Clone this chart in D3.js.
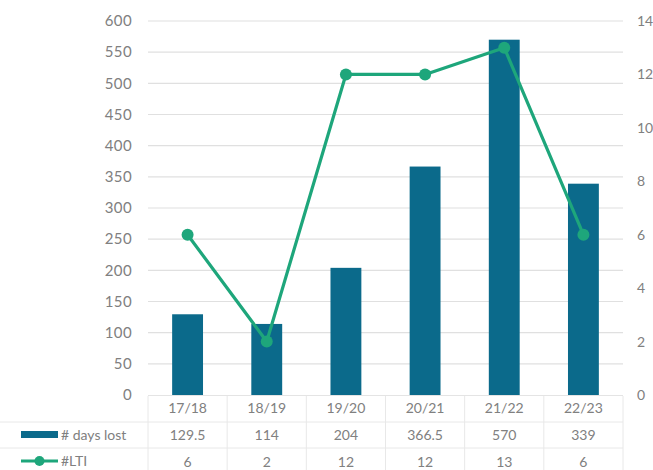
<!DOCTYPE html>
<html><head><meta charset="utf-8">
<script src="https://cdn.jsdelivr.net/npm/d3@7"></script>
<style>body{margin:0;background:#fff}svg{display:block}text{font-family:Lato,"Open Sans",sans-serif;fill:#808080}</style>
</head><body>
<script>
const categories = ["17/18","18/19","19/20","20/21","21/22","22/23"];
const daysLost = [129.5,114,204,366.5,570,339];
const lti = [6,2,12,12,13,6];
const daysLabels = ["129.5","114","204","366.5","570","339"];
const leftTicks = [0,50,100,150,200,250,300,350,400,450,500,550,600];
const rightTicks = [0,2,4,6,8,10,12,14];
const seriesNames = ["# days lost","#LTI"];

const W=653,H=470;
const barColor="#0b6a8b", lineColor="#1ea67b", gridColor="#e0e0e0";
const svg=d3.select("body").append("svg").attr("width",W).attr("height",H);
const x0=148,x1=623,yTop=21,yBot=395;
const x=d3.scaleBand().domain(categories).range([x0,x1]).paddingInner(0.61).paddingOuter(0.305);
const xb=d3.scaleBand().domain(categories).range([x0,x1]);
const yL=d3.scaleLinear().domain([0,600]).range([yBot,yTop]);
const yR=d3.scaleLinear().domain([0,14]).range([yBot,yTop]);

// gridlines
svg.append("g").selectAll("line").data(leftTicks.filter(d=>d>0)).join("line")
  .attr("x1",x0).attr("x2",x1).attr("y1",d=>yL(d)).attr("y2",d=>yL(d))
  .attr("stroke",gridColor).attr("stroke-width",1.2);

// left axis
const gl=svg.append("g").attr("transform",`translate(${x0-16},0)`)
  .call(d3.axisLeft(yL).tickValues(leftTicks).tickSize(0).tickPadding(0));
gl.select(".domain").remove();
gl.selectAll("text").style("font-size","15px").style("fill","#808080").style("font-family","Lato,sans-serif").style("letter-spacing","0.4px");

// right axis
const gr=svg.append("g").attr("transform",`translate(637,0)`)
  .call(d3.axisRight(yR).tickValues(rightTicks).tickSize(0).tickPadding(0));
gr.select(".domain").remove();
gr.selectAll("text").style("font-size","14px").style("fill","#808080").style("font-family","Lato,sans-serif");

// bars
svg.append("g").selectAll("rect").data(categories).join("rect")
  .attr("x",d=>x(d)).attr("width",x.bandwidth())
  .attr("y",(d,i)=>yL(daysLost[i])).attr("height",(d,i)=>yBot-yL(daysLost[i]))
  .attr("fill",barColor);

// line
const cx=d=>xb(d)+xb.bandwidth()/2;
svg.append("path").datum(categories)
  .attr("d",d3.line().x(cx).y((d,i)=>yR(lti[i])))
  .attr("fill","none").attr("stroke",lineColor).attr("stroke-width",3.2).attr("stroke-linejoin","round");
svg.append("g").selectAll("circle").data(categories).join("circle")
  .attr("cx",cx).attr("cy",(d,i)=>yR(lti[i])).attr("r",6).attr("fill",lineColor);

// data table
const tg=svg.append("g");
const rowLines=[422,448];
tg.selectAll("line.h").data(rowLines).join("line").attr("class","h")
  .attr("x1",0).attr("x2",x1).attr("y1",d=>d).attr("y2",d=>d)
  .attr("stroke","#e8e8e8").attr("stroke-width",1);
const bounds=categories.map(c=>xb(c)).concat([x1]);
tg.selectAll("line.v").data(bounds).join("line").attr("class","v")
  .attr("x1",d=>d).attr("x2",d=>d).attr("y1",yBot+1).attr("y2",H)
  .attr("stroke","#e8e8e8").attr("stroke-width",1);
tg.append("line").attr("x1",x0).attr("x2",x1).attr("y1",yBot+0.5).attr("y2",yBot+0.5).attr("stroke","#e4e4e4");

tg.selectAll("text.cat").data(categories).join("text").attr("class","cat")
  .attr("x",cx).attr("y",413).attr("text-anchor","middle").style("font-size","14px").text(d=>d);
tg.selectAll("text.v1").data(categories).join("text").attr("class","v1")
  .attr("x",cx).attr("y",440).attr("text-anchor","middle").style("font-size","14px").text((d,i)=>daysLabels[i]);
tg.selectAll("text.v2").data(categories).join("text").attr("class","v2")
  .attr("x",cx).attr("y",467).attr("text-anchor","middle").style("font-size","14px").text((d,i)=>lti[i]);

// legend keys
tg.append("rect").attr("x",21).attr("y",431).attr("width",37).attr("height",7).attr("fill",barColor);
tg.append("text").attr("x",61).attr("y",440).style("font-size","14px").text(seriesNames[0]);
tg.append("line").attr("x1",21).attr("x2",58).attr("y1",461).attr("y2",461).attr("stroke",lineColor).attr("stroke-width",3);
tg.append("circle").attr("cx",39.5).attr("cy",461).attr("r",5).attr("fill",lineColor);
tg.append("text").attr("x",61).attr("y",466).style("font-size","14px").text(seriesNames[1]);
</script>
</body></html>
